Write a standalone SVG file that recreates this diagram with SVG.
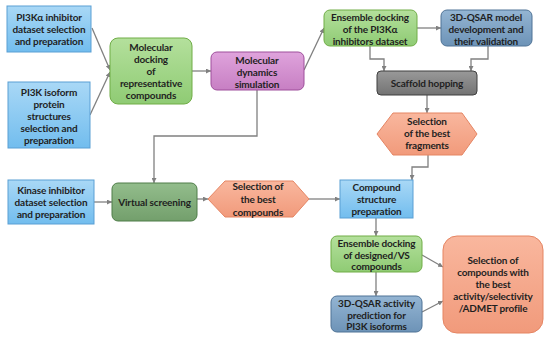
<svg xmlns="http://www.w3.org/2000/svg" width="550" height="339" viewBox="0 0 550 339">
<defs>
<linearGradient id="gBlue" x1="0" y1="0" x2="0" y2="1"><stop offset="0" stop-color="#a9d8f6"/><stop offset="1" stop-color="#72bdee"/></linearGradient>
<linearGradient id="gGreen" x1="0" y1="0" x2="0" y2="1"><stop offset="0" stop-color="#b4e09c"/><stop offset="1" stop-color="#8fcb74"/></linearGradient>
<linearGradient id="gPurple" x1="0" y1="0" x2="0" y2="1"><stop offset="0" stop-color="#dfa3dc"/><stop offset="1" stop-color="#c77fc3"/></linearGradient>
<linearGradient id="gSteel" x1="0" y1="0" x2="0" y2="1"><stop offset="0" stop-color="#94b5d3"/><stop offset="1" stop-color="#6d93b7"/></linearGradient>
<linearGradient id="gGray" x1="0" y1="0" x2="0" y2="1"><stop offset="0" stop-color="#999999"/><stop offset="1" stop-color="#737373"/></linearGradient>
<linearGradient id="gSalmon" x1="0" y1="0" x2="0" y2="1"><stop offset="0" stop-color="#f9b79e"/><stop offset="1" stop-color="#f19a7b"/></linearGradient>
<linearGradient id="gDGreen" x1="0" y1="0" x2="0" y2="1"><stop offset="0" stop-color="#93bd8c"/><stop offset="1" stop-color="#739f6c"/></linearGradient>
<marker id="arr" viewBox="0 0 10 10" refX="10" refY="5" markerWidth="5" markerHeight="5" markerUnits="userSpaceOnUse" orient="auto">
<path d="M0,0 L10,5 L0,10 z" fill="#808080"/>
</marker>
</defs>
<style>
.t{font-family:Lato,"Open Sans","Liberation Sans",sans-serif;font-weight:bold;font-size:10px;letter-spacing:-0.15px;fill:#1f1f1f;text-anchor:middle;dominant-baseline:central}
.blue{fill:url(#gBlue);stroke:#5a9fd4;stroke-width:1}
.green{fill:url(#gGreen);stroke:#70ad47;stroke-width:1}
.purple{fill:url(#gPurple);stroke:#9e4f9b;stroke-width:1}
.steel{fill:url(#gSteel);stroke:#4f7396;stroke-width:1}
.gray{fill:url(#gGray);stroke:#3f3f3f;stroke-width:1}
.salmon{fill:url(#gSalmon);stroke:#e58563;stroke-width:1}
.dgreen{fill:url(#gDGreen);stroke:#4e7d48;stroke-width:1}
.c{fill:none;stroke:#808080;stroke-width:1.3;marker-end:url(#arr)}
</style>
<rect width="550" height="339" fill="#ffffff"/>
<g id="connectors">
<path class="c" d="M92,28 L110,70"/>
<path class="c" d="M90,115 L110,72"/>
<path class="c" d="M192,71 L211,71"/>
<path class="c" d="M304,70 L324,28"/>
<path class="c" d="M417,28 L441,28"/>
<path class="c" d="M370,46 L370,59 L384,59 L384,71"/>
<path class="c" d="M488,46 L488,59 L471,59 L471,71"/>
<path class="c" d="M427,95 L427,113"/>
<path class="c" d="M428,155 L428,167 L412,167 L412,180"/>
<path class="c" d="M257,90 L257,136 L154,136 L154,183"/>
<path class="c" d="M94,202 L112,202"/>
<path class="c" d="M197,199 L208,199"/>
<path class="c" d="M309,199 L340,199"/>
<path class="c" d="M376,218 L376,236"/>
<path class="c" d="M376,272 L376,296"/>
<path class="c" d="M422,255 L443,267"/>
<path class="c" d="M422,312 L443,301"/>
</g>
<g id="n1">
<rect class="blue" x="7" y="6" width="84" height="46"/>
<text class="t" x="49" y="17">PI3Kα inhibitor</text>
<text class="t" x="49" y="29">dataset selection</text>
<text class="t" x="49" y="41">and preparation</text>
</g>
<g id="n2">
<rect class="blue" x="8" y="82" width="82" height="66"/>
<text class="t" x="49" y="92">PI3K isoform</text>
<text class="t" x="49" y="104">protein</text>
<text class="t" x="49" y="116">structures</text>
<text class="t" x="49" y="128">selection and</text>
<text class="t" x="49" y="140">preparation</text>
</g>
<g id="n3">
<rect class="green" x="110" y="38" width="82" height="66" rx="8"/>
<text class="t" x="151" y="47">Molecular</text>
<text class="t" x="151" y="59">docking</text>
<text class="t" x="151" y="71">of</text>
<text class="t" x="151" y="83">representative</text>
<text class="t" x="151" y="95">compounds</text>
</g>
<g id="n4">
<rect class="purple" x="211" y="52" width="93" height="38" rx="6"/>
<text class="t" x="257" y="60">Molecular</text>
<text class="t" x="257" y="72">dynamics</text>
<text class="t" x="257" y="84">simulation</text>
</g>
<g id="n5">
<rect class="green" x="324" y="10" width="93" height="36" rx="6"/>
<text class="t" x="370" y="17">Ensemble docking</text>
<text class="t" x="370" y="29">of the PI3Kα</text>
<text class="t" x="370" y="41">inhibitors dataset</text>
</g>
<g id="n6">
<rect class="steel" x="441" y="10" width="91" height="36" rx="6"/>
<text class="t" x="486" y="17">3D-QSAR model</text>
<text class="t" x="486" y="29">development and</text>
<text class="t" x="486" y="41">their validation</text>
</g>
<g id="n7">
<rect class="gray" x="377" y="71" width="100" height="24" rx="4"/>
<text class="t" x="427" y="83">Scaffold hopping</text>
</g>
<g id="n8">
<polygon class="salmon" points="377,134 393,113 462,113 477,134 462,155 393,155"/>
<text class="t" x="427" y="121">Selection</text>
<text class="t" x="427" y="133">of the best</text>
<text class="t" x="427" y="145">fragments</text>
</g>
<g id="n9">
<rect class="blue" x="8" y="180" width="86" height="44"/>
<text class="t" x="51" y="190">Kinase inhibitor</text>
<text class="t" x="51" y="202">dataset selection</text>
<text class="t" x="51" y="214">and preparation</text>
</g>
<g id="n10">
<rect class="dgreen" x="112" y="183" width="85" height="38" rx="6"/>
<text class="t" x="154.5" y="202">Virtual screening</text>
</g>
<g id="n11">
<polygon class="salmon" points="208,199 225,181 293,181 309,199 293,217 225,217"/>
<text class="t" x="258" y="186">Selection of</text>
<text class="t" x="258" y="199">the best</text>
<text class="t" x="258" y="212">compounds</text>
</g>
<g id="n12">
<rect class="blue" x="340" y="180" width="73" height="38"/>
<text class="t" x="376.5" y="187">Compound</text>
<text class="t" x="376.5" y="199">structure</text>
<text class="t" x="376.5" y="211">preparation</text>
</g>
<g id="n13">
<rect class="green" x="331" y="236" width="91" height="36" rx="6"/>
<text class="t" x="376.5" y="243">Ensemble docking</text>
<text class="t" x="376.5" y="255">of designed/VS</text>
<text class="t" x="376.5" y="266">compounds</text>
</g>
<g id="n14">
<rect class="steel" x="331" y="296" width="91" height="36" rx="6"/>
<text class="t" x="376.5" y="303">3D-QSAR activity</text>
<text class="t" x="376.5" y="315">prediction for</text>
<text class="t" x="376.5" y="326">PI3K isoforms</text>
</g>
<g id="n15">
<rect class="salmon" x="443" y="236" width="100" height="97" rx="14"/>
<text class="t" x="493" y="260">Selection of</text>
<text class="t" x="493" y="272">compounds with</text>
<text class="t" x="493" y="284">the best</text>
<text class="t" x="493" y="296">activity/selectivity</text>
<text class="t" x="493" y="308">/ADMET profile</text>
</g>
</svg>
